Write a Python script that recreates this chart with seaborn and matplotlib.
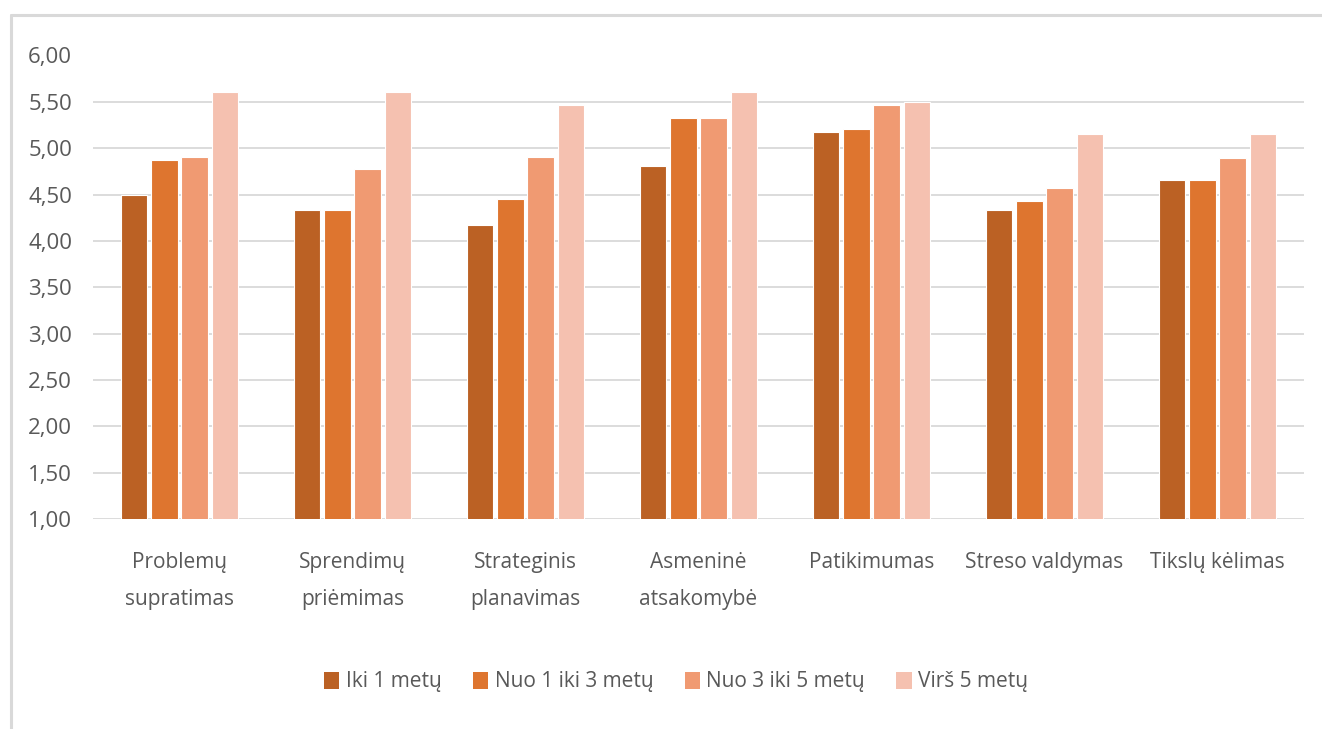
import matplotlib
matplotlib.use("Agg")
import matplotlib.pyplot as plt
from matplotlib.lines import Line2D
from matplotlib.patches import Patch
from matplotlib.ticker import FuncFormatter
import seaborn as sns
import pandas as pd

categories = [
    "Problemų\nsupratimas",
    "Sprendimų\npriėmimas",
    "Strateginis\nplanavimas",
    "Asmeninė\natsakomybė",
    "Patikimumas",
    "Streso valdymas",
    "Tikslų kėlimas",
]
series_names = ["Iki 1 metų", "Nuo 1 iki 3 metų", "Nuo 3 iki 5 metų", "Virš 5 metų"]
iki_1 = [4.50, 4.33, 4.17, 4.81, 5.17, 4.33, 4.66]
nuo_1_iki_3 = [4.87, 4.33, 4.45, 5.33, 5.21, 4.43, 4.66]
nuo_3_iki_5 = [4.91, 4.78, 4.91, 5.33, 5.47, 4.57, 4.89]
virs_5 = [5.61, 5.61, 5.47, 5.61, 5.50, 5.15, 5.15]
y_ticks = [1.0, 1.5, 2.0, 2.5, 3.0, 3.5, 4.0, 4.5, 5.0, 5.5, 6.0]

colors = ["#BB6124", "#DE752F", "#F09A72", "#F5C1B0"]
text_color = "#595959"
grid_color = "#D9D9D9"

rows = []
for name, vals in zip(series_names, [iki_1, nuo_1_iki_3, nuo_3_iki_5, virs_5]):
    for cat, v in zip(categories, vals):
        rows.append({"kategorija": cat, "grupė": name, "vidurkis": v})
df = pd.DataFrame(rows)

sns.set_theme(style="white")
plt.rcParams["font.family"] = ["Open Sans", "DejaVu Sans"]

W, H = 1322, 729
fig = plt.figure(figsize=(W / 100, H / 100), dpi=100)
ax = fig.add_axes([93 / W, 1 - 519 / H, (1304 - 93) / W, (519 - 55.5) / H])

sns.barplot(
    data=df, x="kategorija", y="vidurkis", hue="grupė",
    order=categories, hue_order=series_names, palette=colors, saturation=1,
    width=0.70, gap=0.12, edgecolor="white", linewidth=0.8,
    legend=False, ax=ax, zorder=3,
)

ax.set_ylim(1.0, 6.0)
ax.set_xlim(-0.5, len(categories) - 0.5)
ax.set_yticks(y_ticks)
ax.yaxis.set_major_formatter(FuncFormatter(lambda v, _: f"{v:.2f}".replace(".", ",")))
ax.grid(axis="y", color=grid_color, linewidth=1.3, zorder=0)
ax.grid(axis="x", visible=False)
for s in ax.spines.values():
    s.set_visible(False)
ax.set_xlabel("")
ax.set_ylabel("")
ax.tick_params(axis="y", length=0, pad=15, labelsize=16, labelcolor=text_color)
ax.tick_params(axis="x", length=0, pad=24, labelsize=15, labelcolor=text_color)
for lbl in ax.get_xticklabels():
    lbl.set_verticalalignment("top")
    lbl.set_linespacing(2.0)

handles = [Patch(facecolor=c, edgecolor="none") for c in colors]
fig.legend(
    handles, series_names, loc="center", bbox_to_anchor=(676 / W, 1 - 682 / H),
    ncol=4, frameon=False, fontsize=15, labelcolor=text_color,
    handlelength=0.75, handleheight=0.9, handletextpad=0.3, columnspacing=1.5,
)

# outer frame of the chart area
frame_color = "#D9D9D9"
fig.add_artist(Line2D([10.5 / W, 1.0], [1 - 14.5 / H, 1 - 14.5 / H], transform=fig.transFigure,
                      color=frame_color, linewidth=2.2))
fig.add_artist(Line2D([10.5 / W, 10.5 / W], [0.0, 1 - 14.5 / H], transform=fig.transFigure,
                      color=frame_color, linewidth=2.2))

fig.savefig("out.png", dpi=100, facecolor="white")
